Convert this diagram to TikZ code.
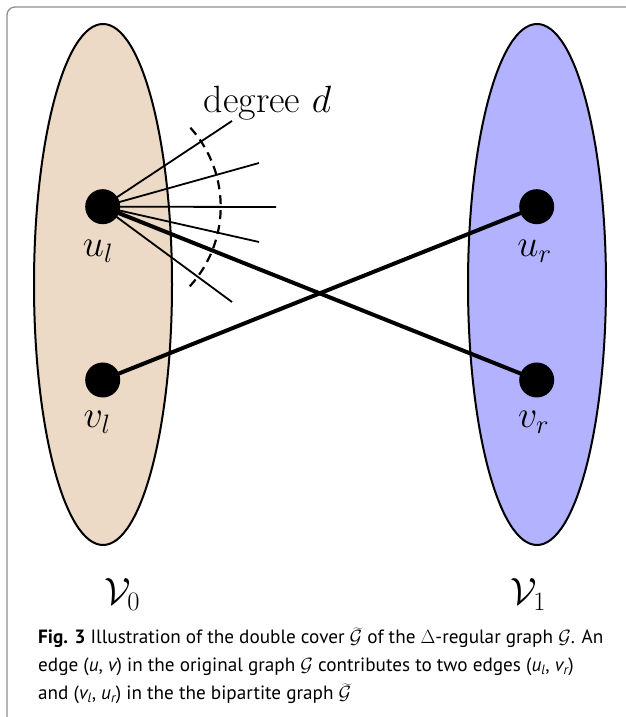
\RequirePackage{fix-cm}
\documentclass[tikz,border=0pt]{standalone}
\usepackage{fontspec}
\newfontfamily\capfont{PT Sans}
\usetikzlibrary{shapes.geometric}
\begin{document}
\begin{tikzpicture}[x=1pt,y=1pt,
  frameline/.style={draw=gray!90, line width=1.3pt, rounded corners=8pt},
  setshape/.style={ellipse, draw=black, line width=2pt, inner sep=0pt, minimum width=138pt, minimum height=521pt},
  vert/.style={circle, fill=black, minimum size=35pt, inner sep=0pt},
  thinedge/.style={line width=1.8pt},
  thickedge/.style={line width=4pt},
  lab/.style={font=\fontsize{38}{44}\selectfont, anchor=base, inner sep=0pt},
  captext/.style={font=\capfont\fontsize{19.2}{27}\selectfont, anchor=base west, inner sep=0pt}]
\useasboundingbox (0,0) rectangle (626,717);
\coordinate (fa) at (7,0);
\coordinate (fb) at (7,710);
\coordinate (fc) at (626,710);
\draw[frameline] (fa) -- (fb) -- (fc);
% sets
\node[setshape, fill=brown!30] (V0) at (103,432.5) {};
\node[setshape, fill=blue!30] (V1) at (537,432.5) {};
% vertices
\node[vert] (ul) at (102.7,510.3) {};
\node[vert] (vl) at (102.7,337) {};
\node[vert] (ur) at (536.7,510.3) {};
\node[vert] (vr) at (536.7,337) {};
% degree lines
\coordinate (d1) at (232,596);
\coordinate (d2) at (259,554);
\coordinate (d3) at (276,510);
\coordinate (d4) at (259,475);
\coordinate (d5) at (232,415);
\foreach \d in {d1,d2,d3,d4,d5} \draw[thinedge] (ul.center) -- (\d);
\draw[dash pattern=on 9pt off 6pt, line width=2.2pt] (ul.center) ++(42:118pt) arc[start angle=42, end angle=-45, radius=118pt];
\node[lab] (deg) at (267.5,604) {degree $d$};
% cross edges
\draw[thickedge] (ul.center) -- (vr.center);
\draw[thickedge] (vl.center) -- (ur.center);
% labels
\node[lab] (lul) at (98,460) {$u_l$};
\node[lab] (lvl) at (97,289) {$v_l$};
\node[lab] (lur) at (534.5,460) {$u_r$};
\node[lab] (lvr) at (533.5,289) {$v_r$};
\node[lab] (lV0) at (122,112) {$\mathcal{V}_0$};
\node[lab] (lV1) at (528,112) {$\mathcal{V}_1$};
% caption
\node[captext] (c1) at (38,73) {{\bfseries Fig. 3} Illustration of the double cover $\widetilde{\mathcal{G}}$ of the $\Delta$-regular graph $\mathcal{G}$. An};
\node[captext] (c2) at (38,45) {edge ({\itshape u}, {\itshape v}) in the original graph $\mathcal{G}$ contributes to two edges ({\itshape u\textsubscript{l}}, {\itshape v\textsubscript{r}})};
\node[captext] (c3) at (38,17) {and ({\itshape v\textsubscript{l}}, {\itshape u\textsubscript{r}}) in the the bipartite graph $\widetilde{\mathcal{G}}$};
\end{tikzpicture}
\end{document}
